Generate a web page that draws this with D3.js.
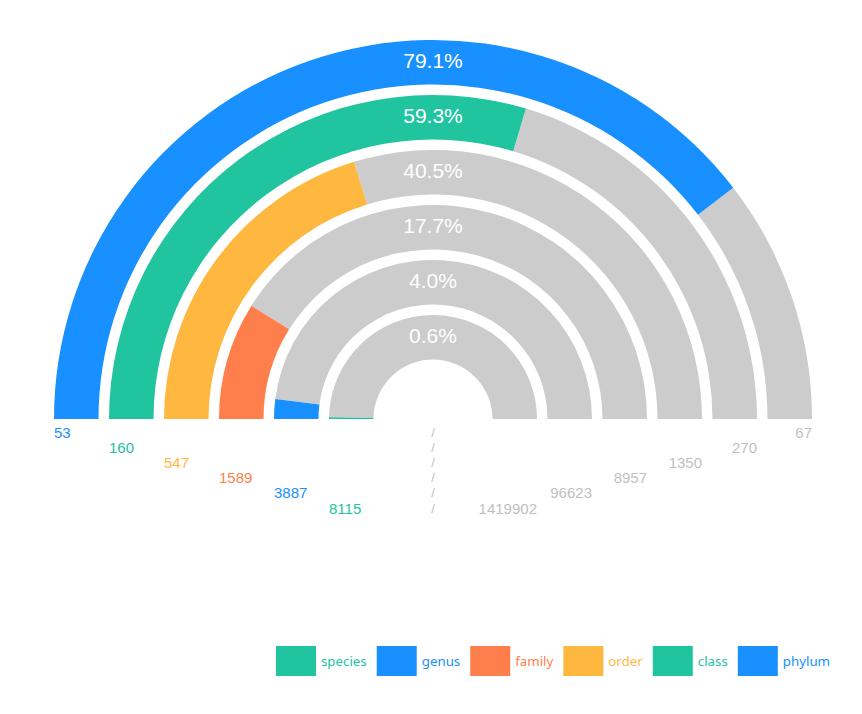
<!DOCTYPE html>
<html>
<head>
<meta charset="utf-8">
<script src="https://cdn.jsdelivr.net/npm/d3@7"></script>
<style>
  html, body { margin: 0; padding: 0; background: #fff; }
  svg { display: block; }
</style>
</head>
<body>
<svg id="chart" width="862" height="714"></svg>
<script>
// ---- data ----
const categories = ["phylum", "class", "order", "family", "genus", "species"];
const counts = [53, 160, 547, 1589, 3887, 8115];
const totals = [67, 270, 1350, 8957, 96623, 1419902];
const colors = ["#1890ff", "#20c49f", "#ffb83f", "#ff7f4c", "#1890ff", "#20c49f"];
const legendOrder = ["species", "genus", "family", "order", "class", "phylum"];

// ---- layout ----
const svg = d3.select("#chart");
const cx = 433, cy = 419;
const grey = "#cccccc";

const rScale = d3.scaleBand()
  .domain(categories.slice().reverse())
  .range([59.5, 379])
  .paddingInner(10.5 / 55)
  .paddingOuter(0);

const aScale = d3.scaleLinear().domain([0, 1]).range([-Math.PI / 2, Math.PI / 2]);

const arc = d3.arc();
const g = svg.append("g").attr("transform", `translate(${cx},${cy})`);

categories.forEach((c, i) => {
  const r0 = rScale(c), r1 = r0 + rScale.bandwidth();
  const p = counts[i] / totals[i];
  g.append("path")
    .attr("d", arc({innerRadius: r0, outerRadius: r1, startAngle: aScale(p), endAngle: aScale(1)}))
    .attr("fill", grey);
  g.append("path")
    .attr("d", arc({innerRadius: r0, outerRadius: r1, startAngle: aScale(0), endAngle: aScale(p)}))
    .attr("fill", colors[i]);
  g.append("text")
    .attr("x", 0)
    .attr("y", -(r0 + r1) / 2 - 2)
    .attr("text-anchor", "middle")
    .attr("dominant-baseline", "central")
    .attr("font-family", "'Liberation Sans', Arial, Helvetica, sans-serif")
    .attr("font-size", 21)
    .attr("fill", "#fff")
    .text((p * 100).toFixed(1) + "%");
});

// bottom labels
const labelFont = "'Liberation Sans', Arial, Helvetica, sans-serif";
categories.forEach((c, i) => {
  const r1 = rScale(c) + rScale.bandwidth();
  const y = 13 + i * 15.2;
  g.append("text")
    .attr("x", -r1).attr("y", y)
    .attr("dominant-baseline", "central")
    .attr("text-anchor", "start")
    .attr("font-family", labelFont).attr("font-size", 15)
    .attr("fill", colors[i])
    .text(counts[i]);
  g.append("text")
    .attr("x", 0).attr("y", y)
    .attr("dominant-baseline", "central")
    .attr("text-anchor", "middle")
    .attr("font-family", labelFont).attr("font-size", 13)
    .attr("fill", "#bfbfbf")
    .text("/");
  g.append("text")
    .attr("x", r1).attr("y", y)
    .attr("dominant-baseline", "central")
    .attr("text-anchor", "end")
    .attr("font-family", labelFont).attr("font-size", 15)
    .attr("fill", "#bfbfbf")
    .text(totals[i]);
});

// legend
const legend = svg.append("g");
let lx = 276;
const ly = 646;
legendOrder.forEach(name => {
  const i = categories.indexOf(name);
  legend.append("rect")
    .attr("x", lx).attr("y", ly).attr("width", 40).attr("height", 30)
    .attr("fill", colors[i]);
  const t = legend.append("text")
    .attr("x", lx + 45).attr("y", ly + 15)
    .attr("dominant-baseline", "central")
    .attr("font-family", "'Noto Sans', 'Open Sans', sans-serif")
    .attr("font-size", 13.3)
    .attr("fill", colors[i])
    .text(name);
  const w = t.node().getComputedTextLength();
  lx += 45 + w + 10;
});
</script>
</body>
</html>
